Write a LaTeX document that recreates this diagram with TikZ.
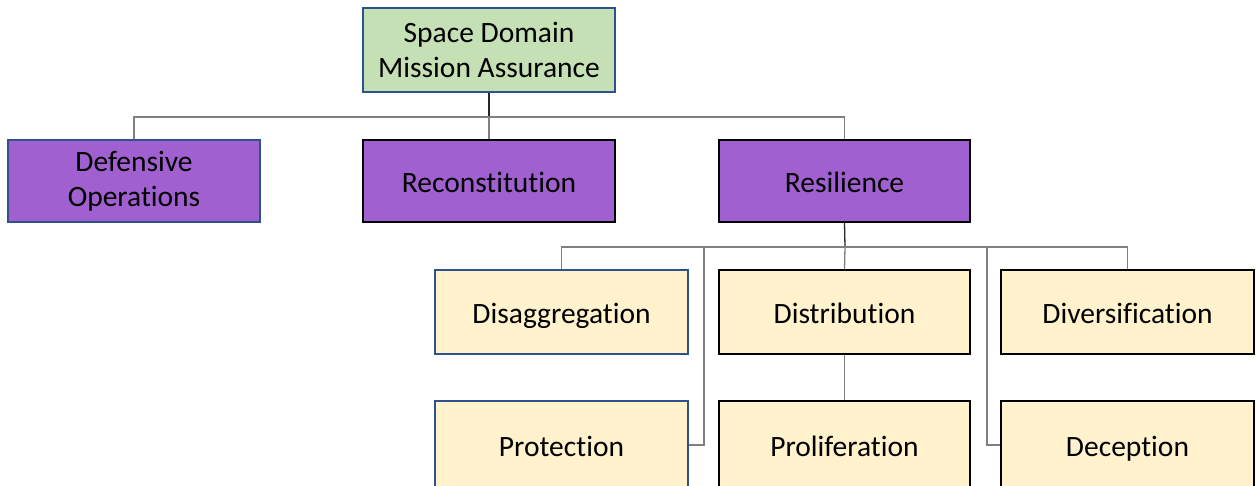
\documentclass[tikz,border=0pt]{standalone}
\usepackage{fontspec}
\setmainfont{Carlito}[Ligatures={NoCommon}]
\definecolor{topfill}{HTML}{C5E0B4}
\definecolor{purplefill}{HTML}{A160CF}
\definecolor{yellowfill}{HTML}{FFF2CC}
\definecolor{blueedge}{HTML}{2F528F}
\definecolor{linegray}{HTML}{808080}
\tikzset{
  box/.style={rectangle, inner sep=0pt, line width=1.6pt, align=center,
    font=\fontsize{29.5}{35}\selectfont, text=black},
  oneline/.style={text height=23.5pt, text depth=0pt},
  greenbox/.style={box, fill=topfill, draw=blueedge},
  purplebox/.style={box, fill=purplefill, draw=black},
  purpleblue/.style={box, fill=purplefill, draw=blueedge},
  yellowbox/.style={box, oneline, fill=yellowfill, draw=black},
  yellowblue/.style={box, oneline, fill=yellowfill, draw=blueedge},
  conn/.style={draw=linegray, line width=1.3pt},
  stub/.style={draw=black!85, line width=1.3pt},
}
\begin{document}
\begin{tikzpicture}[x=1pt,y=-1pt]
\useasboundingbox (0,0) rectangle (1256,485);
\clip (0,0) rectangle (1256,485);

% tree root and first level
\node[greenbox, minimum width=252pt, minimum height=84pt] (root) at (489,50) {Space Domain\\Mission Assurance};
\node[purpleblue, minimum width=252pt, minimum height=82pt] (def) at (134,181) {Defensive\\Operations};
\node[purplebox, oneline, minimum width=252pt, minimum height=82pt] (recon) at (489,181) {Reconstitution};
\node[purplebox, oneline, minimum width=251pt, minimum height=82pt] (resil) at (844.5,181) {Resilience};

% resilience branches
\node[yellowblue, minimum width=253pt, minimum height=84pt] (disag) at (561.5,312) {Disaggregation};
\node[yellowbox, minimum width=251pt, minimum height=84pt] (dist) at (844.5,312) {Distribution};
\node[yellowbox, minimum width=253pt, minimum height=84pt] (divers) at (1127.5,312) {Diversification};
\node[yellowblue, minimum width=253pt, minimum height=88pt] (prot) at (561.5,445) {Protection};
\node[yellowbox, minimum width=251pt, minimum height=88pt] (prolif) at (844.5,445) {Proliferation};
\node[yellowbox, minimum width=253pt, minimum height=88pt] (decep) at (1127.5,445) {Deception};

% bus lines
\coordinate (busA) at (489,117);
\coordinate (busB) at (845,247);
\coordinate (busBl) at (704,247);
\coordinate (busBr) at (987,247);

\draw[stub] (root.south) -- (busA);
\draw[conn] (busA) -- (recon.north);
\draw[conn] (def.north) |- (busA) -| (resil.north);

\draw[stub] (resil.south) -- (busB);
\draw[conn] (busB) -- (dist.north);
\draw[conn] (disag.north) |- (busB) -| (divers.north);
\draw[conn] (prot.east) -| (busBl);
\draw[conn] (decep.west) -| (busBr);
\draw[conn] (dist.south) -- (prolif.north);
\end{tikzpicture}
\end{document}
